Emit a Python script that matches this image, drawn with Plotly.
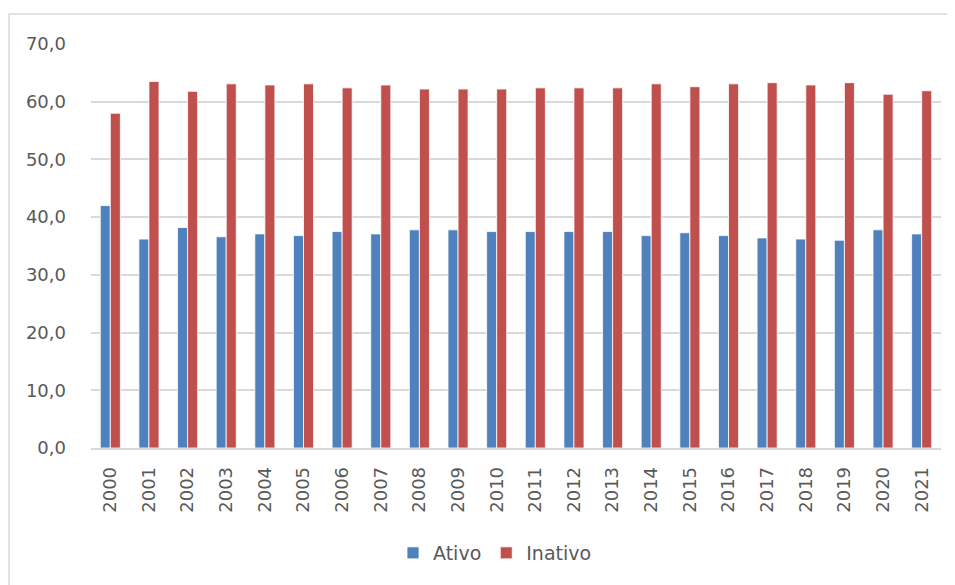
import plotly.graph_objects as go

years = [str(y) for y in range(2000, 2022)]
ativo = [42.0, 36.2, 38.2, 36.6, 37.1, 36.8, 37.5, 37.1, 37.8, 37.8, 37.5,
         37.5, 37.5, 37.5, 36.8, 37.3, 36.8, 36.4, 36.2, 36.0, 37.8, 37.1]
inativo = [58.0, 63.5, 61.8, 63.1, 62.9, 63.1, 62.4, 62.9, 62.2, 62.2, 62.2,
           62.4, 62.4, 62.4, 63.1, 62.6, 63.1, 63.3, 62.9, 63.3, 61.3, 61.9]
y_ticks = [0, 10, 20, 30, 40, 50, 60, 70]
y_labels = [f"{v:.1f}".replace(".", ",") for v in y_ticks]

W, H = 955, 585
OFF = 8  # page body margin
L, R, T, B = 91 - OFF, 22, 44 - OFF, 145
pw, ph = W - L - R, H - T - B

fig = go.Figure()
fig.add_trace(go.Bar(name="Ativo", x=years, y=ativo,
                     marker=dict(color="#4F81BD", line=dict(color="rgba(255,255,255,0.8)", width=1))))
fig.add_trace(go.Bar(name="Inativo", x=years, y=inativo,
                     marker=dict(color="#C0504D", line=dict(color="rgba(255,255,255,0.8)", width=1))))

font = dict(family="DejaVu Sans", size=18, color="#595959")

fig.update_layout(
    width=W, height=H,
    margin=dict(l=L, r=R, t=T, b=B),
    paper_bgcolor="white", plot_bgcolor="white",
    barmode="group", bargap=0.48, bargroupgap=0,
    font=font,
    showlegend=True,
    legend=dict(orientation="h", x=0.5 - 21 / pw, xanchor="center", y=(448 - 553) / ph, yanchor="middle",
                font=dict(family="DejaVu Sans", size=19, color="#595959"),
                itemwidth=30, traceorder="normal"),
    xaxis=dict(type="category", tickangle=-90, showgrid=False, showline=True,
               linecolor="#D9D9D9", linewidth=1.5, ticks="", tickfont=font,
               ticklabelstandoff=10),
    yaxis=dict(range=[0, 70], tickvals=y_ticks, ticktext=y_labels, showgrid=True,
               gridcolor="#D9D9D9", gridwidth=1.5, zeroline=False, showline=False,
               ticks="", tickfont=font, ticklabelstandoff=24),
)

fig.add_shape(type="rect", xref="paper", yref="paper", layer="above",
              x0=(9 - OFF - L) / pw, x1=(975 - L) / pw,
              y0=(T + ph - 600) / ph, y1=1 + (T - (14 - OFF)) / ph,
              line=dict(color="#D9D9D9", width=1.5), fillcolor="rgba(0,0,0,0)")

fig.write_html("out.html")
